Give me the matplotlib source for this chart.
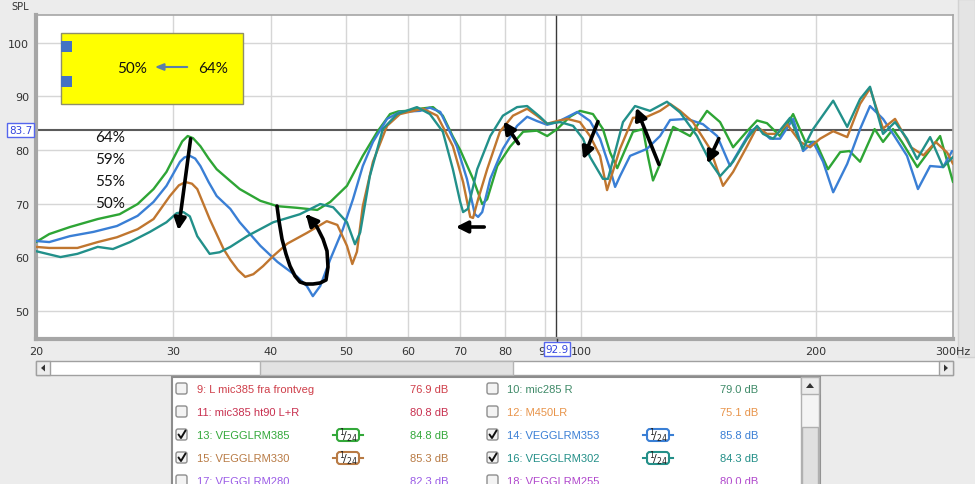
import matplotlib.pyplot as plt
import matplotlib.ticker as mticker
from matplotlib.patches import Rectangle, FancyBboxPatch, Polygon

# --- measured curves (Hz, dB SPL) ---
freq_385 = [20, 20.8, 22.1, 24.0, 25.6, 27.0, 28.3, 29.4, 30.3, 30.8, 31.3, 31.8, 32.5, 33.3, 34.1, 35.5,
            36.5, 38.8, 40.8, 43.2, 45.9, 47.7, 50.1, 52.5, 54.8, 56.9, 58.3, 59.8, 62.2, 64.6, 66.5, 68.5,
            70.0, 72.7, 74.7, 75.8, 78.1, 81.1, 84.3, 87.8, 90.5, 93.2, 96.8, 99.7, 103.6, 106.7, 109.0,
            111.3, 113.9, 116.6, 120.1, 121.9, 123.7, 126.3, 131.3, 138.0, 145.1, 150.8, 156.7, 163.3,
            168.2, 173.2, 180.0, 187.1, 194.0, 200.0, 207.4, 215.0, 221.0, 228.0, 238.0, 244.0, 251.3,
            258.0, 270.0, 288.8, 300]
spl_385 = [62.8, 64.3, 65.6, 67.1, 68.0, 69.9, 72.7, 75.9, 79.6, 81.6, 82.6, 82.2, 80.7, 78.4, 76.4, 74.2,
           72.7, 70.5, 69.5, 69.2, 68.8, 70.3, 73.3, 78.9, 83.4, 86.7, 87.2, 87.3, 87.7, 88.0, 86.4, 82.5,
           80.0, 74.6, 69.9, 70.8, 77.0, 80.6, 83.4, 83.6, 82.6, 83.9, 86.2, 87.3, 86.7, 83.9, 79.5,
           76.6, 80.0, 83.4, 83.9, 78.7, 74.3, 77.4, 84.3, 82.6, 87.3, 85.2, 80.5, 83.5,
           85.5, 85.0, 82.6, 86.7, 81.5, 81.5, 76.4, 79.6, 79.8, 77.8, 83.9, 81.5, 83.9,
           81.5, 76.8, 82.6, 74.0]

freq_353 = [20, 20.8, 22.1, 23.7, 25.4, 27.0, 28.3, 29.4, 30.6, 31.0, 31.5, 32.0, 32.5, 33.3, 34.1, 35.5,
            36.5, 38.8, 40.8, 43.2, 44.5, 45.3, 46.3, 47.7, 49.5, 51.0, 52.5, 54.1, 56.4, 58.6, 62.2,
            64.0, 66.0, 69.3, 71.4, 73.1, 73.8, 74.7, 76.5, 79.4, 82.8, 85.3, 87.8, 90.5, 93.2, 96.8,
            98.9, 102.7, 105.8, 109.0, 110.6, 112.2, 115.6, 121.5, 126.3, 130.1, 136.8, 143.4, 149.5,
            155.3, 164.8, 168.2, 174.8, 180.0, 187.1, 192.7, 198.5, 204.4, 210.6, 219.5, 228.0, 234.8,
            244.0, 251.3, 261.9, 270.5, 280.4, 291.4, 299.2]
spl_353 = [63.0, 62.8, 63.9, 64.7, 65.8, 67.7, 70.3, 73.3, 77.8, 78.6, 78.9, 78.4, 77.0, 74.0, 71.4, 69.0,
           66.5, 62.1, 59.1, 56.4, 54.6, 52.7, 54.6, 59.6, 65.2, 70.8, 77.0, 81.5, 85.8, 87.1, 87.3,
           87.9, 87.1, 80.7, 74.6, 68.0, 67.5, 68.4, 74.6, 80.2, 84.5, 86.2, 85.4, 84.7, 85.2, 86.4,
           87.1, 85.4, 82.1, 76.4, 73.1, 75.1, 78.9, 80.2, 82.6, 85.6, 85.8, 84.8, 82.6,
           77.0, 83.4, 84.3, 82.1, 82.1, 85.8, 79.8, 81.5, 77.8, 72.1, 77.4, 83.9, 88.2,
           85.8, 83.0, 78.9, 72.7, 77.0, 76.8, 79.8]

freq_330 = [20, 20.8, 22.6, 24.0, 25.4, 27.0, 28.3, 29.7, 30.5, 31.1, 31.7, 32.2, 33.4, 34.8, 35.5, 36.3,
            37.1, 38.0, 39.1, 40.3, 42.0, 44.5, 47.2, 48.7, 50.1, 50.9, 51.6, 52.5, 54.1, 56.4, 58.6,
            62.7, 65.4, 68.5, 70.6, 72.1, 72.7, 73.8, 75.8, 78.7, 81.8, 85.3, 87.8, 90.5, 93.2, 96.0,
            99.7, 102.7, 105.8, 108.0, 112.2, 116.6, 121.5, 126.3, 130.1, 134.0, 139.2, 146.4, 152.1,
            156.7, 163.3, 168.2, 173.2, 178.4, 183.8, 191.0, 196.7, 202.6, 210.6, 219.5, 228.0, 234.8,
            244.0, 252.8, 265.0, 275.0, 285.0, 294.9, 300]
spl_330 = [61.9, 61.7, 61.7, 62.8, 63.7, 65.2, 67.1, 71.4, 73.4, 74.0, 73.7, 72.7, 67.1, 61.5, 59.5, 57.6,
           56.3, 56.8, 58.3, 60.2, 62.5, 64.5, 66.7, 66.0, 62.1, 58.7, 61.0, 69.5, 77.8, 84.5, 86.7,
           87.7, 86.4, 80.7, 74.0, 67.5, 67.3, 70.8, 76.4, 83.4, 86.4, 87.7, 86.4, 84.9, 85.4, 85.8,
           85.2, 82.6, 78.9, 72.5, 80.2, 86.0, 86.2, 87.3, 88.6, 87.3, 85.2, 80.2, 73.3,
           75.9, 80.7, 84.3, 83.0, 83.0, 84.8, 81.5, 80.5, 82.1, 83.5, 82.4, 88.6, 91.5,
           84.0, 85.8, 80.5, 79.0, 81.5, 79.5, 77.4]

freq_302 = [20, 21.5, 22.6, 24.0, 25.1, 26.4, 28.0, 29.4, 30.3, 30.9, 31.5, 32.2, 33.4, 34.4, 35.5, 37.3,
            40.3, 43.6, 46.3, 48.1, 50.1, 51.3, 52.1, 53.6, 55.7, 58.1, 61.6, 64.0, 66.5, 68.5, 70.0,
            70.6, 71.6, 73.6, 76.5, 79.4, 82.8, 85.3, 88.6, 90.5, 94.0, 97.7, 100.6, 102.7, 106.7, 108.3,
            113.2, 117.3, 122.6, 128.9, 134.0, 140.9, 146.4, 150.8, 156.7, 163.3, 168.2, 171.2, 176.4,
            185.4, 192.7, 198.5, 210.6, 219.5, 228.0, 234.8, 244.0, 252.8, 261.9, 269.8, 280.4, 291.4, 300]
spl_302 = [61.1, 60.0, 60.6, 61.9, 61.5, 62.8, 64.7, 66.5, 68.2, 68.4, 67.6, 63.9, 60.6, 60.9, 61.9, 63.9,
           66.5, 68.0, 69.9, 69.3, 66.5, 62.4, 64.6, 75.1, 83.9, 86.7, 88.0, 86.7, 83.4, 76.4, 70.3,
           68.4, 69.0, 76.4, 82.6, 86.4, 88.0, 88.2, 86.2, 84.9, 85.2, 84.5, 82.1, 78.7, 74.6, 74.6,
           85.2, 88.2, 87.3, 89.0, 87.0, 82.6, 77.8, 75.1, 77.8, 82.1, 84.5, 83.0, 82.1,
           86.0, 80.2, 83.9, 89.2, 84.3, 89.5, 91.8, 83.0, 85.2, 82.1, 78.3, 82.4, 76.8, 78.7]

x_ticks = [20, 30, 40, 50, 60, 70, 80, 90, 100, 200, 300]
x_tick_labels = ['20', '30', '40', '50', '60', '70', '80', '90', '100', '200', '300Hz']
y_ticks = [50, 60, 70, 80, 90, 100]

legend_labels = ['9: L mic385 fra frontveg', '10: mic285 R', '11: mic385 ht90 L+R', '12: M450LR',
                 '13: VEGGLRM385', '14: VEGGLRM353', '15: VEGGLRM330', '16: VEGGLRM302',
                 '17: VEGGLRM280', '18: VEGGLRM255']
legend_db = ['76.9 dB', '79.0 dB', '80.8 dB', '75.1 dB', '84.8 dB', '85.8 dB', '85.3 dB', '84.3 dB',
             '82.3 dB', '80.0 dB']
legend_colors = ['#cf3f4a', '#3f8a68', '#c8304f', '#e8944a', '#33a83a', '#3a7fd5', '#b87a44', '#238f88',
                 '#9a5be6', '#b048cc']
legend_checked = [False, False, False, False, True, True, True, True, False, False]

pct_labels = ['64%', '59%', '55%', '50%']

c385, c353, c330, c302 = '#2ea535', '#3a7fd5', '#c0762f', '#22908a'

W, H = 975, 485
fig = plt.figure(figsize=(W / 100, H / 100), dpi=100, facecolor='#ececec')

# background layer (screen pixels)
bg = fig.add_axes([0, 0, 1, 1], zorder=0)
bg.set_xlim(0, W)
bg.set_ylim(H, 0)
bg.axis('off')
bg.add_patch(Rectangle((958, 0), 17, 358, fc='#e4e4e4', ec='#d2d2d2', lw=1))

# main plot area (pixel box 36..953 x 16..340)
ax = fig.add_axes([36 / W, (H - 340) / H, 917 / W, 324 / H], zorder=1)
ax.set_facecolor('white')
ax.set_xscale('log')
ax.set_xlim(20, 300)
ax.set_ylim(44.7, 105.2)
ax.xaxis.set_minor_locator(mticker.NullLocator())
ax.set_xticks(x_ticks)
ax.set_xticklabels(x_tick_labels)
ax.set_yticks(y_ticks)
ax.tick_params(length=0, labelsize=8, labelcolor='#333333', pad=5)
ax.grid(True, color='#d6d6d6', lw=1)
ax.set_axisbelow(True)
for side, sp in ax.spines.items():
    sp.set_color('#a6a6a6')
    sp.set_linewidth(1.2)
ax.spines['left'].set_linewidth(3)
ax.spines['bottom'].set_linewidth(3)

ax.axhline(83.7, color='#5a5a5a', lw=1.5, zorder=2)
ax.axvline(92.9, color='#3a3a3a', lw=1, zorder=2)

line_kw = dict(lw=1.7, zorder=3, solid_joinstyle='round', solid_capstyle='round')
ax.plot(freq_385, spl_385, color=c385, **line_kw)
ax.plot(freq_353, spl_353, color=c353, **line_kw)
ax.plot(freq_330, spl_330, color=c330, **line_kw)
ax.plot(freq_302, spl_302, color=c302, **line_kw)

# overlay in screen pixels for UI + annotations
ui = fig.add_axes([0, 0, 1, 1], zorder=5)
ui.set_xlim(0, W)
ui.set_ylim(H, 0)
ui.axis('off')
ui.patch.set_alpha(0)

ui.text(11, 7, 'SPL', fontsize=7, color='#333333', va='center')

# cursor value boxes
ui.plot([557, 557], [340, 343], color='#3a3a3a', lw=1)
ui.text(557, 350, '92.9', fontsize=7.5, color='#3344dd', ha='center', va='center',
        bbox=dict(boxstyle='square,pad=0.15', fc='white', ec='#5566ee', lw=1))
ui.text(20.5, 131, '83.7', fontsize=7.5, color='#3344dd', ha='center', va='center',
        bbox=dict(boxstyle='square,pad=0.15', fc='white', ec='#5566ee', lw=1))

# horizontal scrollbar
ui.add_patch(Rectangle((36, 362), 917, 14, fc='white', ec='#a0a0a0', lw=1))
ui.add_patch(Rectangle((260, 362), 253, 14, fc='#e2e2e2', ec='#b4b4b4', lw=1))
ui.add_patch(Rectangle((36, 362), 14, 14, fc='#ececec', ec='#a0a0a0', lw=1))
ui.add_patch(Rectangle((939, 362), 14, 14, fc='#ececec', ec='#a0a0a0', lw=1))
ui.add_patch(Polygon([[45, 365.5], [45, 372.5], [41, 369]], closed=True, fc='#333333', ec='none'))
ui.add_patch(Polygon([[944, 365.5], [944, 372.5], [948, 369]], closed=True, fc='#333333', ec='none'))

# legend panel
ui.add_patch(Rectangle((172, 378), 648, 110, fc='white', ec='#8c8c8c', lw=1.5))
ui.add_patch(Rectangle((801, 378), 18, 110, fc='#f4f4f4', ec='#b0b0b0', lw=1))
ui.add_patch(Rectangle((801, 378), 18, 17, fc='#ececec', ec='#b0b0b0', lw=1))
ui.add_patch(Rectangle((802, 428), 16, 60, fc='#e0e0e0', ec='#b0b0b0', lw=1))
ui.add_patch(Polygon([[806, 389], [814, 389], [810, 384]], closed=True, fc='#333333', ec='none'))

row_y = [390, 413, 436, 459, 482]
col_x = [(176, 197, 348, 448), (487, 507, 658, 758)]
for i, lab in enumerate(legend_labels):
    r, c = divmod(i, 2)
    y = row_y[r]
    bx, tx, gx, dx = col_x[c]
    ui.add_patch(FancyBboxPatch((bx, y - 6), 11, 11, boxstyle='round,pad=0,rounding_size=2',
                                fc='#f3f3f3', ec='#8e8e8e', lw=1))
    if legend_checked[i]:
        ui.plot([bx + 2.5, bx + 5, bx + 9.5], [y - 0.5, y + 3, y - 4.5], color='#111111', lw=1.4,
                solid_capstyle='round')
        col = legend_colors[i]
        ui.plot([gx - 15, gx - 11], [y, y], color=col, lw=1.5)
        ui.plot([gx + 11, gx + 15], [y, y], color=col, lw=1.5)
        ui.add_patch(FancyBboxPatch((gx - 11, y - 6), 22, 12, boxstyle='round,pad=0,rounding_size=3',
                                    fc='white', ec=col, lw=1.5))
        ui.text(gx, y, r'$^{1}\!/_{24}$', fontsize=8, color='#222222', ha='center', va='center')
    ui.text(tx, y, lab, fontsize=8, color=legend_colors[i], va='center', family='Liberation Sans')
    ui.text(dx, y, legend_db[i], fontsize=8, color=legend_colors[i], va='center', ha='right',
            family='Liberation Sans')

# yellow note box
ui.add_patch(Rectangle((61, 34), 182, 71, fc='#ffff00', ec='#8f8f6a', lw=1))
ui.add_patch(Rectangle((61, 42), 11, 11, fc='#4472c4', ec='none'))
ui.add_patch(Rectangle((61, 77), 11, 11, fc='#4472c4', ec='none'))
ui.text(132, 69, '50%', fontsize=11, family='Lato', ha='center', va='center', color='#111111')
ui.text(213, 69, '64%', fontsize=11, family='Lato', ha='center', va='center', color='#111111')
ui.annotate('', xy=(152, 68), xytext=(190, 68),
            arrowprops=dict(arrowstyle='-|>,head_length=0.5,head_width=0.2', color='#5b7fa8', lw=1.5))

for k, t in enumerate(pct_labels):
    ui.text(95, 138 + 22 * k, t, fontsize=11, family='Lato', va='center', color='#111111')

# hand-drawn black arrows
arrow_kw = dict(arrowstyle='-|>,head_length=0.7,head_width=0.35', color='black', lw=2.6)
arrows = [((191, 137), (178, 234)),
          ((487, 228), (453, 228)),
          ((520, 147), (502, 120)),
          ((599, 120), (582, 163)),
          ((660, 168), (635, 106)),
          ((720, 137), (706, 167))]
for tail, head in arrows:
    ui.annotate('', xy=head, xytext=tail, arrowprops=arrow_kw)

loop_x = [277, 279, 282, 286, 290, 295, 300, 306, 313, 320, 326, 328, 327, 323, 317, 311]
loop_y = [207, 222, 240, 255, 267, 277, 283, 285, 285, 284, 281, 268, 252, 240, 228, 221]
ui.plot(loop_x, loop_y, color='black', lw=2.6, solid_capstyle='round', solid_joinstyle='round')
ui.annotate('', xy=(304, 213), xytext=(311, 221), arrowprops=arrow_kw)

fig.savefig('out.png', dpi=100, facecolor=fig.get_facecolor())
